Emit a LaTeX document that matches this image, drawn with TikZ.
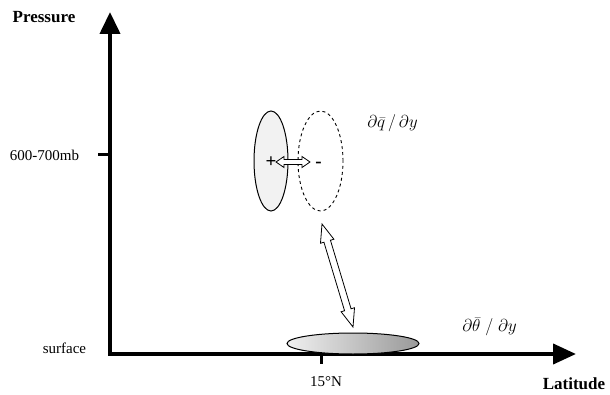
\documentclass[tikz,border=0pt]{standalone}
\usepackage{fontspec}
\setmainfont{Liberation Serif}
\usetikzlibrary{calc,arrows.meta,shapes.geometric}
% hollow double-headed arrow: #1,#2 end points, #3 head length, #4 head half width, #5 shaft half width
\newcommand\hollowdarrow[5]{%
  \draw[line width=0.8pt, fill=white, line join=miter]
    (#1)
    -- ($(#1)!#3!(#2)!#4!90:(#2)$)
    -- ($(#1)!#3!(#2)!#5!90:(#2)$)
    -- ($(#2)!#3!(#1)!#5!-90:(#1)$)
    -- ($(#2)!#3!(#1)!#4!-90:(#1)$)
    -- (#2)
    -- ($(#2)!#3!(#1)!#4!90:(#1)$)
    -- ($(#2)!#3!(#1)!#5!90:(#1)$)
    -- ($(#1)!#3!(#2)!#5!-90:(#2)$)
    -- ($(#1)!#3!(#2)!#4!-90:(#2)$)
    -- cycle;}
\tikzset{
  axis/.style={line width=4pt, line join=miter,
    {Triangle[length=22pt,width=20pt]}-{Triangle[length=23pt,width=20pt]}},
  tick/.style={line width=3pt},
  lbl/.style={font=\fontsize{15}{18}\selectfont, inner sep=0pt},
  axlbl/.style={font=\fontsize{17}{20}\selectfont\bfseries, inner sep=0pt},
  deriv/.style={font=\fontsize{17}{20}\selectfont, inner sep=0pt},
  sign/.style={font=\fontsize{19}{22}\selectfont\bfseries, inner sep=0pt},
}
\begin{document}
\begin{tikzpicture}[x=1pt,y=1pt]
\useasboundingbox (0,0) rectangle (610,394);
% axes
\coordinate (O) at (110,40);
\coordinate (ytop) at (110,382);
\coordinate (xend) at (576,40);
\draw[axis] (ytop) -- (O) -- (xend);
% ticks
\coordinate (t600) at (110,239);
\coordinate (t600l) at (98,239);
\draw[tick] (t600) -- (t600l);
\coordinate (t15) at (321,40);
\coordinate (t15b) at (321,30);
\draw[tick] (t15) -- (t15b);
% labels
\node[axlbl] (pres) at (44,377) {Pressure};
\node[axlbl] (lat) at (574,10) {Latitude};
\node[lbl] (lev) at (44.5,239) {600-700mb};
\node[lbl] (surf) at (64.5,46) {surface};
\node[lbl] (lat15) at (326,12) {15°N};
% mid-level ellipses
\node[ellipse, draw, line width=1pt, fill=gray!10, minimum width=34pt, minimum height=100pt, inner sep=0pt] (pos) at (271,233) {};
\node[ellipse, draw, dashed, line width=0.9pt, minimum width=45pt, minimum height=100pt, inner sep=0pt] (neg) at (320.5,233) {};
\node[sign] (plus) at (271,232) {+};
\node[sign] (minus) at (318.5,229) {-};
% horizontal hollow arrow
\coordinate (h1) at (276,232);
\coordinate (h2) at (310,232);
\hollowdarrow{h1}{h2}{8pt}{5.5pt}{2.5pt}
% surface ellipse
\node[ellipse, draw, line width=1pt, left color=gray!12, right color=gray!80, minimum width=132pt, minimum height=21pt, inner sep=0pt] (sfc) at (353,50.5) {};
% diagonal hollow arrow
\coordinate (d1) at (322,170);
\coordinate (d2) at (353,67);
\hollowdarrow{d1}{d2}{18pt}{7pt}{3.4pt}
% derivative labels
\node[deriv] (dq) at (392.5,271) {$\partial\bar{q}\,/\,\partial y$};
\node[deriv] (dth) at (489.5,67) {$\partial\bar{\theta}\;/\;\partial y$};
\end{tikzpicture}
\end{document}
